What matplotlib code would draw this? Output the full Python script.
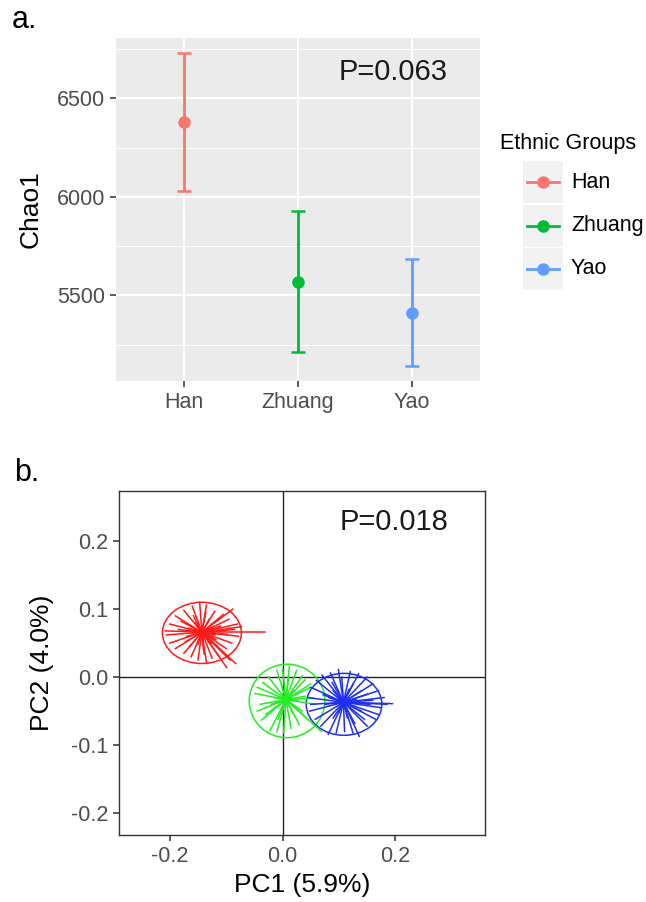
import matplotlib
matplotlib.use("Agg")
import matplotlib.pyplot as plt
from matplotlib.patches import Ellipse, Rectangle
from matplotlib.lines import Line2D

plt.rcParams["font.family"] = ["Liberation Sans", "DejaVu Sans"]

# ---- panel a: Chao1 mean with error bars ----
groups = ["Han", "Zhuang", "Yao"]
chao1_mean = [6378, 5566, 5409]
chao1_low = [6031, 5211, 5141]
chao1_high = [6731, 5926, 5683]
group_colors = ["#F8766D", "#00BA38", "#619CFF"]

# ---- panel b: PCoA spider plot (sample coordinates) ----
han_center = (-0.143, 0.066)
han_x = [-0.031, -0.083, -0.099, -0.093, -0.147, -0.088, -0.206, -0.200, -0.190,
         -0.175, -0.160, -0.135, -0.120, -0.105, -0.095, -0.080, -0.073, -0.085,
         -0.078, -0.090, -0.100, -0.112, -0.125, -0.135, -0.150, -0.162, -0.175,
         -0.190, -0.200, -0.208, -0.185, -0.170, -0.155, -0.130, -0.118, -0.140,
         -0.165, -0.110, -0.128, -0.158, -0.172, -0.120, -0.108, -0.150, -0.136,
         -0.180, -0.115, -0.098, -0.145, -0.166, -0.126, -0.139]
han_y = [0.066, 0.020, 0.014, 0.025, 0.110, 0.100, 0.062, 0.078, 0.090,
         0.098, 0.104, 0.106, 0.097, 0.092, 0.085, 0.078, 0.074, 0.070,
         0.060, 0.050, 0.042, 0.030, 0.028, 0.022, 0.025, 0.030, 0.035,
         0.042, 0.050, 0.068, 0.070, 0.060, 0.080, 0.085, 0.055, 0.040,
         0.045, 0.075, 0.072, 0.090, 0.052, 0.062, 0.068, 0.048, 0.095,
         0.082, 0.045, 0.063, 0.058, 0.072, 0.050, 0.034]
zhuang_center = (0.006, -0.033)
zhuang_x = [0.012, 0.000, -0.010, 0.025, 0.035, 0.040, 0.050, 0.054, 0.060, 0.069,
            0.045, 0.030, 0.015, 0.002, -0.010, -0.022, -0.037, -0.045, -0.040,
            -0.049, -0.045, -0.035, -0.025, -0.015, 0.020, -0.030, 0.035, 0.050,
            0.028, -0.008, 0.018, -0.020, 0.040, 0.010]
zhuang_y = [0.015, 0.012, 0.010, 0.010, 0.002, -0.004, -0.015, -0.031, -0.040, -0.080,
            -0.062, -0.070, -0.075, -0.082, -0.080, -0.078, -0.063, -0.050, -0.040,
            -0.024, -0.015, -0.008, 0.000, -0.030, -0.020, -0.055, -0.050, -0.010,
            -0.035, -0.062, -0.052, -0.040, -0.028, -0.004]
yao_center = (0.108, -0.037)
yao_x = [0.195, 0.180, 0.175, 0.170, 0.160, 0.150, 0.135, 0.120, 0.099, 0.085,
         0.070, 0.060, 0.050, 0.045, 0.050, 0.048, 0.058, 0.068, 0.081, 0.095,
         0.110, 0.125, 0.136, 0.150, 0.165, 0.170, 0.185, 0.140, 0.125, 0.090,
         0.075, 0.090, 0.115, 0.155, 0.105, 0.140, 0.130, 0.160, 0.082, 0.100,
         0.118, 0.145, 0.088, 0.128, 0.150, 0.072]
yao_y = [-0.039, -0.030, -0.045, -0.020, -0.010, 0.000, 0.005, 0.008, 0.011, 0.006,
         0.003, -0.005, -0.015, -0.030, -0.040, -0.050, -0.062, -0.072, -0.084, -0.082,
         -0.080, -0.082, -0.087, -0.072, -0.062, -0.055, -0.040, -0.020, -0.010, -0.020,
         -0.040, -0.060, -0.060, -0.040, 0.000, -0.050, -0.033, -0.034, -0.030, -0.052,
         -0.018, -0.062, -0.008, -0.068, -0.025, -0.026]
# ellipse centre, full width, full height
ellipses = [((-0.143, 0.065), 0.140, 0.090),
            ((0.008, -0.035), 0.134, 0.108),
            ((0.109, -0.040), 0.134, 0.091)]
pcoa_colors = ["#FF1A1A", "#22EE22", "#1F2FEE"]

TICK_GREY = "#4D4D4D"

fig = plt.figure(figsize=(6.46, 9.02), dpi=100)

# ---------------- panel a ----------------
ax = fig.add_axes([116 / 646, 1 - 381 / 902, 364 / 646, 343 / 902])
ax.set_facecolor("#EBEBEB")
xs = range(1, len(groups) + 1)
for x, m, lo, hi, c in zip(xs, chao1_mean, chao1_low, chao1_high, group_colors):
    ax.errorbar([x], [m], yerr=[[m - lo], [hi - m]], color=c, ecolor=c,
                elinewidth=2.0, capsize=5, capthick=1.8, marker="o",
                markersize=8, lw=0, zorder=3)
ax.set_xlim(0.4, 3.6)
ax.set_ylim(5065, 6806)
ax.set_xticks(list(xs))
ax.set_xticklabels(groups)
ax.set_yticks([5500, 6000, 6500])
ax.set_yticks([5250, 5750, 6250, 6750], minor=True)
ax.grid(True, which="major", color="white", lw=1.4, zorder=0)
ax.grid(True, which="minor", axis="y", color="white", lw=0.7, zorder=0)
ax.set_axisbelow(True)
for s in ax.spines.values():
    s.set_visible(False)
ax.tick_params(which="major", colors=TICK_GREY, labelsize=15.5, length=4, width=1.3, pad=4)
ax.tick_params(which="minor", length=0)
ax.set_ylabel("Chao1", fontsize=19, labelpad=10)
ax.text(0.912, 0.90, "P=0.063", transform=ax.transAxes, fontsize=21,
        ha="right", va="center", color="#1A1A1A")
fig.text(12 / 646, 1 - 20 / 902, "a.", fontsize=22, ha="left", va="center")

# legend drawn by hand to get ggplot-style grey key boxes
lax = fig.add_axes([0, 0, 1, 1], facecolor="none")
lax.set_xlim(0, 646)
lax.set_ylim(902, 0)
lax.axis("off")
lax.text(500, 143, "Ethnic Groups", fontsize=15.5, ha="left", va="center")
for i, (g, c) in enumerate(zip(groups, group_colors)):
    yc = 182 + i * 43.5
    lax.add_patch(Rectangle((523, yc - 21), 40, 42, color="#F2F2F2", lw=0))
    lax.add_line(Line2D([527, 559], [yc, yc], color=c, lw=2.0))
    lax.plot([543], [yc], "o", color=c, markersize=8)
    lax.text(571, yc, g, fontsize=15.5, ha="left", va="center")

# ---------------- panel b ----------------
bx = fig.add_axes([119 / 646, 1 - 835 / 902, 366 / 646, 344 / 902])
spiders = [(han_center, han_x, han_y), (zhuang_center, zhuang_x, zhuang_y),
           (yao_center, yao_x, yao_y)]
for (ctr, px, py), (ecen, ew, eh), c in zip(spiders, ellipses, pcoa_colors):
    for x, y in zip(px, py):
        bx.plot([ctr[0], x], [ctr[1], y], color=c, lw=1.1)
    bx.add_patch(Ellipse(ecen, ew, eh, fill=False, edgecolor=c, lw=1.1))
bx.axhline(0, color="#222222", lw=1.0, zorder=0)
bx.axvline(0, color="#222222", lw=1.0, zorder=0)
bx.set_xlim(-0.29, 0.359)
bx.set_ylim(-0.232, 0.2735)
bx.set_xticks([-0.2, 0.0, 0.2])
bx.set_xticklabels(["-0.2", "0.0", "0.2"])
bx.set_yticks([-0.2, -0.1, 0.0, 0.1, 0.2])
bx.set_yticklabels(["-0.2", "-0.1", "0.0", "0.1", "0.2"])
for s in bx.spines.values():
    s.set_color("#333333")
    s.set_linewidth(1.0)
bx.tick_params(colors=TICK_GREY, labelsize=15.5, length=4, width=1.3, pad=4)
bx.set_xlabel("PC1 (5.9%)", fontsize=19, labelpad=4)
bx.set_ylabel("PC2 (4.0%)", fontsize=19, labelpad=12)
bx.text(0.899, 0.91, "P=0.018", transform=bx.transAxes, fontsize=21,
        ha="right", va="center", color="#1A1A1A")
fig.text(14 / 646, 1 - 473 / 902, "b.", fontsize=22, ha="left", va="center")

fig.savefig("out.png", dpi=100)
